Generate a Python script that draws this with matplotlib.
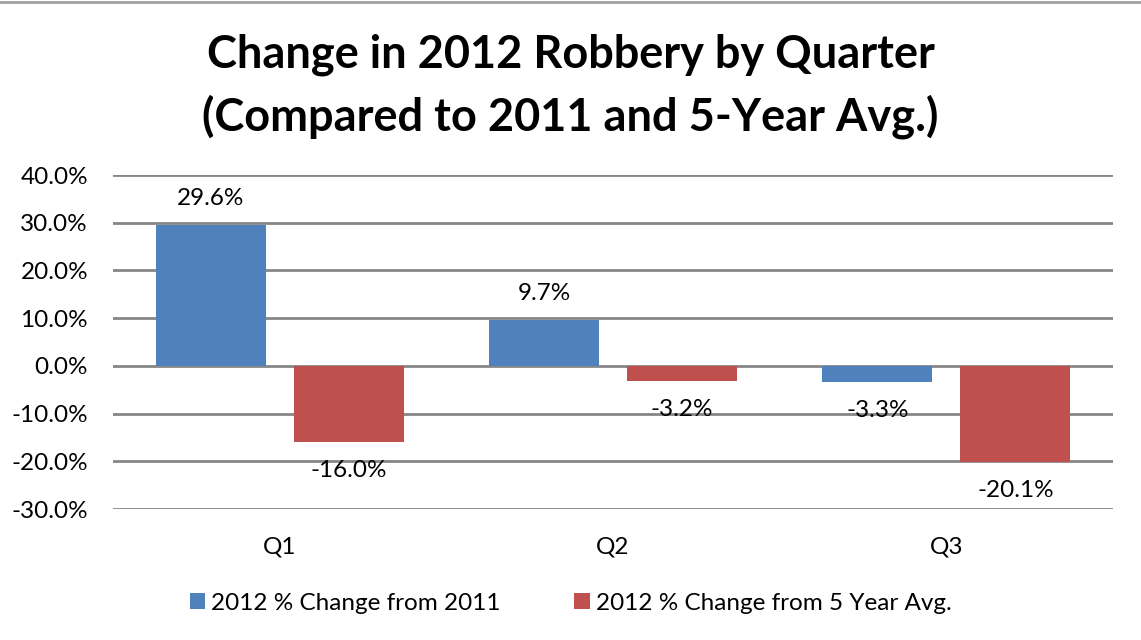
import matplotlib.pyplot as plt
import numpy as np
from matplotlib.lines import Line2D

quarters = ["Q1", "Q2", "Q3"]
chg_2011 = [29.6, 9.7, -3.3]
chg_5yr = [-16.0, -3.2, -20.1]
series_names = ["2012 % Change from 2011", "2012 % Change from 5 Year Avg."]
yticks = [-30, -20, -10, 0, 10, 20, 30, 40]

plt.rcParams["font.family"] = ["Lato", "DejaVu Sans"]
BLUE = "#4F81BD"
RED = "#C0504D"
GRID = "#868686"

fig = plt.figure(figsize=(11.41, 6.40), dpi=100)
ax = fig.add_axes([113 / 1141, 1 - 509 / 640, 1000 / 1141, 334 / 640])

x = np.arange(len(quarters))
w = 0.33
off = 0.207
b1 = ax.bar(x - off, chg_2011, w, color=BLUE, label=series_names[0], zorder=3)
b2 = ax.bar(x + off, chg_5yr, w, color=RED, label=series_names[1], zorder=3)

for bars in (b1, b2):
    for rect in bars:
        v = rect.get_height()
        cx = rect.get_x() + rect.get_width() / 2
        if v >= 0:
            ax.annotate(f"{v:.1f}%", (cx, v), xytext=(0, 11), textcoords="offset points",
                        ha="center", va="bottom", fontsize=17.5)
        else:
            ax.annotate(f"{v:.1f}%", (cx, v), xytext=(0, -13), textcoords="offset points",
                        ha="center", va="top", fontsize=17.5)

ax.set_xlim(-0.5, 2.5)
ax.set_ylim(-30, 40)
ax.set_yticks(yticks)
ax.set_yticklabels([f"{t:.1f}%" for t in yticks])
ax.set_xticks(x)
ax.set_xticklabels(quarters)
ax.tick_params(axis="y", length=0, pad=18, labelsize=17.5)
ax.tick_params(axis="x", length=0, pad=20, labelsize=17.5)
ax.yaxis.grid(True, color=GRID, linewidth=2, zorder=0)
ax.set_axisbelow(True)
for s in ax.spines.values():
    s.set_visible(False)

fig.text(0.5, 1 - 55 / 640, "Change in 2012 Robbery by Quarter", ha="center", va="center",
         fontsize=32.5, fontweight="bold")
fig.text(0.5, 1 - 117 / 640, "(Compared to 2011 and 5-Year Avg.)", ha="center", va="center",
         fontsize=32.5, fontweight="bold")

# screenshot border line at top
fig.add_artist(Line2D([0, 1], [1 - 2 / 640, 1 - 2 / 640], color="#A0A0A0", linewidth=2,
                      transform=fig.transFigure))

fig.legend(handles=[b1, b2], loc="center", bbox_to_anchor=(0.5, 1 - 603 / 640), ncol=2,
           frameon=False, fontsize=17.5, handlelength=0.65, handleheight=0.65,
           handletextpad=0.25, columnspacing=3.0)

fig.savefig("out.png", dpi=100)
